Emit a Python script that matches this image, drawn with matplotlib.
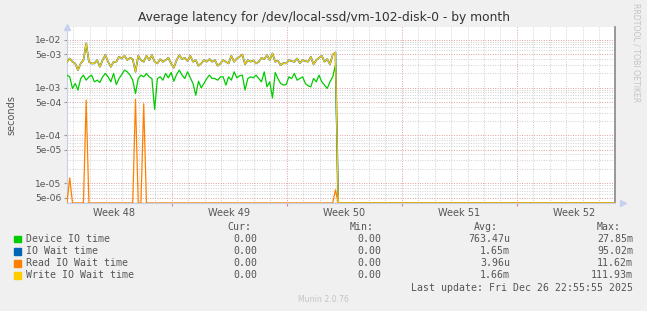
import matplotlib
matplotlib.use("Agg")
import matplotlib.pyplot as plt
from matplotlib.patches import Rectangle
from matplotlib.ticker import FixedLocator, NullFormatter
import matplotlib.transforms as mtransforms
import numpy as np

# time axis: days since Mon 24 Nov 2025 00:00, one sample every 4 hours
t_first = 0.63
t_step = 1 / 6
t_last = 33.97

device_io = [
    1.82e-3, 1.68e-3, 9.6e-4, 1.22e-3, 8.9e-4, 1.55e-3, 1.82e-3, 1.43e-3, 1.68e-3, 1.82e-3,
    1.32e-3, 1.43e-3, 1.28e-3, 1.68e-3, 1.98e-3, 1.68e-3, 1.32e-3, 1.98e-3, 1.16e-3, 1.55e-3,
    1.88e-3, 2.32e-3, 2.14e-3, 1.82e-3, 1.43e-3, 7.5e-4, 1.55e-3, 1.82e-3, 1.68e-3, 1.98e-3,
    1.68e-3, 1.55e-3, 3.5e-4, 1.55e-3, 1.68e-3, 1.43e-3, 1.98e-3, 1.6e-3, 2.07e-3, 1.36e-3,
    1.88e-3, 2.32e-3, 1.82e-3, 1.55e-3, 2.14e-3, 1.6e-3, 1.22e-3, 6.95e-4, 1.36e-3, 9.9e-4,
    1.22e-3, 1.55e-3, 1.82e-3, 1.55e-3, 1.55e-3, 1.43e-3, 1.68e-3, 1.68e-3, 1.13e-3, 1.68e-3,
    1.43e-3, 2.14e-3, 1.6e-3, 1.77e-3, 1.82e-3, 8.9e-4, 1.55e-3, 1.68e-3, 1.6e-3, 1.82e-3,
    1.55e-3, 1.32e-3, 2.14e-3, 1.04e-3, 1.32e-3, 6.1e-4, 2.07e-3, 1.55e-3, 1.22e-3, 1.13e-3,
    1.16e-3, 1.68e-3, 1.55e-3, 1.98e-3, 1.43e-3, 1.55e-3, 1.68e-3, 1.22e-3, 1.09e-3, 1.04e-3,
    1.55e-3, 1.32e-3, 1.82e-3, 1.32e-3, 1.13e-3, 9.6e-4, 1.32e-3, 1.68e-3, 2.95e-3, 0,
]

write_wait = [
    3.47e-3, 4.07e-3, 3.47e-3, 3.2e-3, 2.32e-3, 3.2e-3, 3.76e-3, 8.4e-3, 3.47e-3, 3.2e-3,
    3.2e-3, 3.76e-3, 2.72e-3, 3.76e-3, 4.78e-3, 3.47e-3, 2.72e-3, 3.47e-3, 3.47e-3, 4.41e-3,
    4.07e-3, 4.63e-3, 3.76e-3, 4.2e-3, 3.94e-3, 2.14e-3, 4.63e-3, 3.76e-3, 3.47e-3, 4.63e-3,
    3.76e-3, 4.78e-3, 3.47e-3, 3.2e-3, 3.94e-3, 3.47e-3, 3.76e-3, 4.2e-3, 3.2e-3, 2.6e-3,
    3.76e-3, 4.78e-3, 3.94e-3, 4.2e-3, 3.58e-3, 4.63e-3, 3.47e-3, 3.76e-3, 2.86e-3, 3.2e-3,
    3.76e-3, 3.47e-3, 3.94e-3, 3.47e-3, 3.76e-3, 2.86e-3, 3.2e-3, 3.76e-3, 3.47e-3, 3.2e-3,
    4.63e-3, 3.47e-3, 4.07e-3, 4.41e-3, 4.93e-3, 3.05e-3, 3.76e-3, 3.47e-3, 3.7e-3, 3.2e-3,
    3.47e-3, 4.2e-3, 3.94e-3, 4.78e-3, 3.76e-3, 5.18e-3, 3.47e-3, 3.64e-3, 2.95e-3, 3.25e-3,
    3.2e-3, 3.76e-3, 3.58e-3, 3.47e-3, 4.07e-3, 3.25e-3, 3.76e-3, 3.58e-3, 3.47e-3, 4.41e-3,
    3.05e-3, 3.76e-3, 4.2e-3, 4.63e-3, 3.47e-3, 3.94e-3, 3.05e-3, 4.93e-3, 5.43e-3, 0,
]

# io wait is almost the same as write wait and hides underneath it
io_wait = list(write_wait)

read_wait = [
    0, 1.3e-5, 0, 0, 0, 0, 0, 5.5e-4, 0, 0,
    0, 0, 0, 0, 0, 0, 0, 0, 0, 0,
    0, 0, 0, 0, 0, 5.7e-4, 0, 0, 4.6e-4, 0,
    0, 0, 0, 0, 0, 0, 0, 0, 0, 0,
    0, 0, 0, 0, 0, 0, 0, 0, 0, 0,
    0, 0, 0, 0, 0, 0, 0, 0, 0, 0,
    0, 0, 0, 0, 0, 0, 0, 0, 0, 0,
    0, 0, 0, 0, 0, 0, 0, 0, 0, 0,
    0, 0, 0, 0, 0, 0, 0, 0, 0, 0,
    0, 0, 0, 0, 0, 0, 0, 0, 7.3e-6, 0,
]

names = ["Device IO time", "IO Wait time", "Read IO Wait time", "Write IO Wait time"]
colors = ["#00CC00", "#0066B3", "#FF8000", "#FFCC00"]
widths = [0.9, 1.2, 0.9, 0.9]
cur_vals = ["0.00", "0.00", "0.00", "0.00"]
min_vals = ["0.00", "0.00", "0.00", "0.00"]
avg_vals = ["763.47u", "1.65m", "3.96u", "1.66m"]
max_vals = ["27.85m", "95.02m", "11.62m", "111.93m"]
week_labels = ["Week 48", "Week 49", "Week 50", "Week 51", "Week 52"]
y_ticks = [1e-2, 5e-3, 1e-3, 5e-4, 1e-4, 5e-5, 1e-5, 5e-6]

W, H = 647, 311
y_bot, y_top = 3.87e-6, 0.0185
txt = "#555555"


def fx(px):
    return px / W


def fy(py):
    return 1 - py / H


fig = plt.figure(figsize=(W / 100, H / 100), dpi=100)
fig.patch.set_facecolor("#F0F0F0")
ax = fig.add_axes([fx(67), fy(203), fx(615) - fx(67), fy(27) - fy(203)])
ax.set_facecolor("white")

t = list(t_first + t_step * np.arange(len(device_io))) + [t_last]
series = [device_io, io_wait, read_wait, write_wait]
for vals, c, lw in zip(series, colors, widths):
    v = np.array(vals + [0.0])
    v = np.where(v > 0, v, y_bot)
    ax.plot(t, v, color=c, lw=lw, zorder=3)

ax.set_yscale("log")
ax.set_ylim(y_bot, y_top)
ax.set_xlim(t_first, t_last)

# grid: days gray, weeks red
for d in range(1, 34):
    ax.axvline(d, color="#e0a0a0" if d % 7 == 0 else "#cfcfcf",
               lw=0.7, ls=(0, (1, 1.5)), zorder=1)
ax.yaxis.set_major_locator(FixedLocator(y_ticks))
ax.set_yticklabels(["{:.0e}".format(v) for v in y_ticks])
ax.yaxis.set_minor_locator(FixedLocator(
    [m * 10.0 ** e for e in range(-6, -1) for m in (2, 3, 4, 6, 7, 8, 9)]))
ax.yaxis.set_minor_formatter(NullFormatter())
ax.grid(axis="y", which="major", color="#e0a0a0", lw=0.7, ls=(0, (1, 1.5)), zorder=1)
ax.grid(axis="y", which="minor", color="#cfcfcf", lw=0.7, ls=(0, (1, 1.5)), zorder=1)
ax.tick_params(axis="y", which="major", length=2, color="#999999",
               labelsize=6.6, labelcolor=txt, pad=2)
ax.tick_params(axis="y", which="minor", length=0)
ax.set_xticks([7, 14, 21, 28])
ax.set_xticklabels([])
ax.tick_params(axis="x", length=2, color="#e08080")

ax.spines["top"].set_visible(False)
ax.spines["left"].set_color("#c8d0e8")
ax.spines["bottom"].set_color("#c8d0e8")
ax.spines["right"].set_color("#888888")
ax.spines["right"].set_linewidth(1.2)

# axis arrows
ax.plot([0], [1.0], transform=ax.transAxes, marker="^", ms=4, color="#c8d0f0",
        clip_on=False, zorder=5)
ax.plot([1.015], [0], transform=ax.transAxes, marker=">", ms=4, color="#c8d0f0",
        clip_on=False, zorder=5)

week_tr = mtransforms.blended_transform_factory(ax.transData, fig.transFigure)
for i, lab in enumerate(week_labels):
    ax.text(3.5 + 7 * i, fy(212.5), lab, transform=week_tr,
            ha="center", va="center", fontsize=7, color=txt, clip_on=False)

fig.text(0.5, fy(18), "Average latency for /dev/local-ssd/vm-102-disk-0 - by month",
         ha="center", va="center", fontsize=8.8, color="#333333")
fig.text(fx(11), fy(115), "seconds", rotation=90, ha="center", va="center",
         fontsize=7, color=txt)
fig.text(fx(636), fy(53), "RRDTOOL / TOBI OETIKER", rotation=270, ha="center",
         va="center", fontsize=5.6, color="#c4c4c4")

mono = dict(family="DejaVu Sans Mono", fontsize=7.1, color=txt, va="center")
fig.text(fx(251), fy(227.5), "Cur:", ha="right", **mono)
fig.text(fx(374), fy(227.5), "Min:", ha="right", **mono)
fig.text(fx(498), fy(227.5), "Avg:", ha="right", **mono)
fig.text(fx(621), fy(227.5), "Max:", ha="right", **mono)
rows = [239.3, 251.5, 263.5, 275.5]
for k in range(4):
    y = rows[k]
    fig.add_artist(Rectangle((fx(14), fy(y + 3)), fx(6.5), 6.5 / H,
                             color=colors[k], transform=fig.transFigure))
    fig.text(fx(26), fy(y), names[k], ha="left", **mono)
    fig.text(fx(257), fy(y), cur_vals[k], ha="right", **mono)
    fig.text(fx(381), fy(y), min_vals[k], ha="right", **mono)
    fig.text(fx(510), fy(y), avg_vals[k], ha="right", **mono)
    fig.text(fx(633), fy(y), max_vals[k], ha="right", **mono)
fig.text(fx(633), fy(287.7), "Last update: Fri Dec 26 22:55:55 2025", ha="right", **mono)
fig.text(0.5, fy(300), "Munin 2.0.76", ha="center", va="center", fontsize=5.6,
         color="#c4c4c4")

fig.savefig("out.png", dpi=100, facecolor=fig.get_facecolor())
